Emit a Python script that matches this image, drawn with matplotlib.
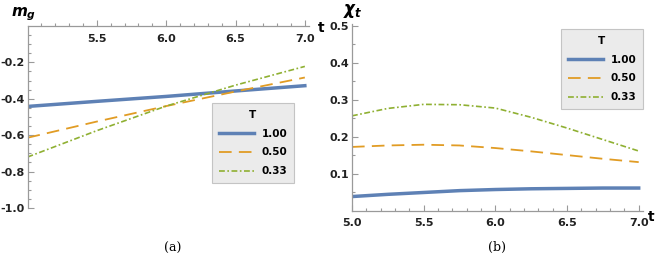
import numpy as np
import matplotlib.pyplot as plt

plt.rcParams['axes.unicode_minus'] = False
plt.rcParams['mathtext.fontset'] = 'custom'
plt.rcParams['mathtext.it'] = 'DejaVu Sans:bold:italic'
plt.rcParams['mathtext.rm'] = 'DejaVu Sans:bold'

t_a = [5.0, 5.5, 6.0, 6.5, 7.0]
mg_100 = [-0.442, -0.414, -0.387, -0.357, -0.328]
mg_050 = [-0.614, -0.525, -0.440, -0.360, -0.283]
mg_033 = [-0.720, -0.575, -0.440, -0.325, -0.222]

t_b = [5.0, 5.25, 5.5, 5.75, 6.0, 6.25, 6.5, 6.75, 7.0]
chi_100 = [0.039, 0.045, 0.050, 0.055, 0.058, 0.060, 0.061, 0.062, 0.062]
chi_050 = [0.173, 0.177, 0.179, 0.177, 0.170, 0.161, 0.151, 0.141, 0.132]
chi_033 = [0.257, 0.277, 0.288, 0.287, 0.278, 0.253, 0.224, 0.193, 0.162]

temps = ['1.00', '0.50', '0.33']
xticks = [5.0, 5.5, 6.0, 6.5, 7.0]
yticks_a = [-1.0, -0.8, -0.6, -0.4, -0.2]
yticks_b = [0.1, 0.2, 0.3, 0.4, 0.5]

colors = ['#5e81b5', '#e19c24', '#8fb032']
styles = [dict(lw=2.5, ls='-'),
          dict(lw=1.3, ls=(0, (7, 4))),
          dict(lw=1.2, ls=(0, (3.5, 1.5, 1, 1.5)))]

W, H = 664, 269
axis_gray = '#9a9a9a'
label_col = '#222222'


def style_axes(ax):
    for s in ['top', 'right']:
        ax.spines[s].set_visible(False)
    for s in ['left', 'bottom']:
        ax.spines[s].set_color(axis_gray)
        ax.spines[s].set_linewidth(0.9)
    ax.tick_params(which='both', direction='in', color=axis_gray,
                   labelsize=8, labelcolor=label_col, width=0.8)
    ax.tick_params(which='major', length=4)
    ax.tick_params(which='minor', length=2)
    ax.tick_params(axis='x', pad=5)
    ax.tick_params(axis='y', pad=2)
    for lab in ax.get_xticklabels() + ax.get_yticklabels():
        lab.set_fontweight('bold')


def add_legend(ax, x, y):
    leg = ax.legend(title='T', loc='upper left', bbox_to_anchor=(x / W, 1 - y / H),
                    bbox_transform=ax.figure.transFigure, fancybox=False,
                    facecolor='#ebebeb', edgecolor='#c4c4c4', framealpha=1,
                    handlelength=3.4, labelspacing=0.85, borderpad=0.65,
                    borderaxespad=0, handletextpad=0.7,
                    prop={'size': 7.5, 'weight': 'bold'})
    leg.get_title().set_fontweight('bold')
    leg.get_title().set_fontsize(7.5)
    leg.get_frame().set_linewidth(0.8)


def main():
    fig = plt.figure(figsize=(W / 100, H / 100), dpi=100)

    # panel (a)
    ax = fig.add_axes([27.5 / W, 1 - 208 / H, (309 - 27.5) / W, (208 - 26) / H])
    for y, c, st, lab in zip([mg_100, mg_050, mg_033], colors, styles, temps):
        ax.plot(t_a, y, color=c, label=lab, **st)
    ax.set_xlim(5, 7.03)
    ax.set_ylim(-1.0, 0)
    ax.spines['bottom'].set_position(('data', 0))
    ax.set_xticks(xticks[1:])
    ax.set_xticks(np.arange(5.1, 7.0, 0.1), minor=True)
    ax.set_yticks(yticks_a)
    ax.set_yticks(np.arange(-0.95, 0, 0.05), minor=True)
    ax.set_yticklabels(['%.1f' % v for v in yticks_a])
    style_axes(ax)
    ax.tick_params(axis='x', which='both', direction='in', pad=6)
    fig.text(24 / W, 1 - 14 / H, r'$m_g$', fontsize=11,
             ha='center', va='center')
    fig.text(321 / W, 1 - 28 / H, 't', fontsize=10, fontweight='bold',
             ha='center', va='center')
    add_legend(ax, 212, 103)
    fig.text(173 / W, 1 - 248 / H, '(a)', fontsize=9, family='DejaVu Serif',
             ha='center', va='center')

    # panel (b)
    bx = fig.add_axes([352 / W, 1 - 211 / H, (643 - 352) / W, (211 - 24) / H])
    for y, c, st, lab in zip([chi_100, chi_050, chi_033], colors, styles, temps):
        bx.plot(t_b, y, color=c, label=lab, **st)
    bx.set_xlim(5, 7.03)
    bx.set_ylim(0, 0.505)
    bx.set_xticks(xticks)
    bx.set_xticks(np.arange(5.1, 7.0, 0.1), minor=True)
    bx.set_yticks(yticks_b)
    bx.set_yticks(np.arange(0.05, 0.5, 0.05), minor=True)
    bx.set_xticklabels(['%.1f' % v for v in xticks])
    bx.set_yticklabels(['%.1f' % v for v in yticks_b])
    style_axes(bx)
    fig.text(353 / W, 1 - 11 / H, r'$\chi_t$', fontsize=12,
             ha='center', va='center')
    fig.text(651 / W, 1 - 217 / H, 't', fontsize=10, fontweight='bold',
             ha='center', va='center')
    add_legend(bx, 561, 29)
    fig.text(497 / W, 1 - 247 / H, '(b)', fontsize=9, family='DejaVu Serif',
             ha='center', va='center')

    fig.savefig('out.png', dpi=100)


if __name__ == '__main__':
    main()
